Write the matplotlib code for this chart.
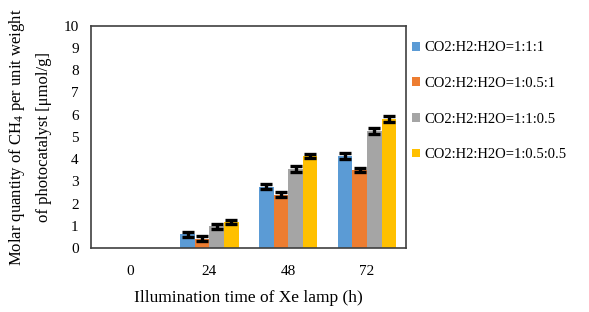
import matplotlib
matplotlib.use("Agg")
import matplotlib.pyplot as plt
import numpy as np
from matplotlib import rcParams

rcParams["font.family"] = ["Liberation Serif", "DejaVu Serif"]
rcParams["mathtext.fontset"] = "custom"
rcParams["mathtext.rm"] = "Liberation Serif"
rcParams["mathtext.it"] = "Liberation Serif:italic"

# data
hours = ["0", "24", "48", "72"]
series_names = ["CO2:H2:H2O=1:1:1", "CO2:H2:H2O=1:0.5:1",
                "CO2:H2:H2O=1:1:0.5", "CO2:H2:H2O=1:0.5:0.5"]
ratio_111 = [0.0, 0.62, 2.76, 4.12]
ratio_1051 = [0.0, 0.42, 2.40, 3.52]
ratio_1105 = [0.0, 0.97, 3.55, 5.25]
ratio_10505 = [0.0, 1.18, 4.15, 5.80]
err_111 = [0.0, 0.11, 0.10, 0.13]
err_1051 = [0.0, 0.10, 0.10, 0.10]
err_1105 = [0.0, 0.13, 0.14, 0.14]
err_10505 = [0.0, 0.10, 0.09, 0.12]

COLORS = ["#5B9BD5", "#ED7D31", "#A5A5A5", "#FFC000"]

fig = plt.figure(figsize=(5.89, 3.12), dpi=100)
ax = fig.add_axes([0.155, 0.205, 0.535, 0.713])

x = np.arange(len(hours))
w = 0.185
vals = [ratio_111, ratio_1051, ratio_1105, ratio_10505]
errs = [err_111, err_1051, err_1105, err_10505]
for i, (v, e) in enumerate(zip(vals, errs)):
    pos = x + (i - 1.5) * w
    ax.bar(pos, v, width=w, color=COLORS[i], label=series_names[i], zorder=2)
    v = np.array(v)
    m = v > 0
    ax.errorbar(pos[m], v[m], yerr=np.array(e)[m], fmt="none", ecolor="black",
                elinewidth=2.4, capsize=4.2, capthick=2.4, zorder=3)

ax.set_xlim(-0.5, 3.5)
ax.set_ylim(0, 10)
ax.set_yticks(range(0, 11))
ax.set_xticks(x)
ax.set_xticklabels(hours)
ax.tick_params(axis="y", length=0, labelsize=11, pad=9)
ax.tick_params(axis="x", length=0, labelsize=11, pad=12)
for sp in ax.spines.values():
    sp.set_color("#404040")
    sp.set_linewidth(1.2)

ax.set_xlabel("Illumination time of Xe lamp (h)", fontsize=12.5, labelpad=9)
ax.set_ylabel("Molar quantity of CH$_4$ per unit weight\nof photocatalyst [μmol/g]",
              fontsize=12, labelpad=8, linespacing=1.75)

ax.legend(loc="upper left", bbox_to_anchor=(0.985, 0.975), frameon=False,
          fontsize=10.5, handlelength=0.55, handleheight=0.55, handletextpad=0.3,
          labelspacing=1.55, borderaxespad=0.3)

fig.savefig("out.png", dpi=100)
